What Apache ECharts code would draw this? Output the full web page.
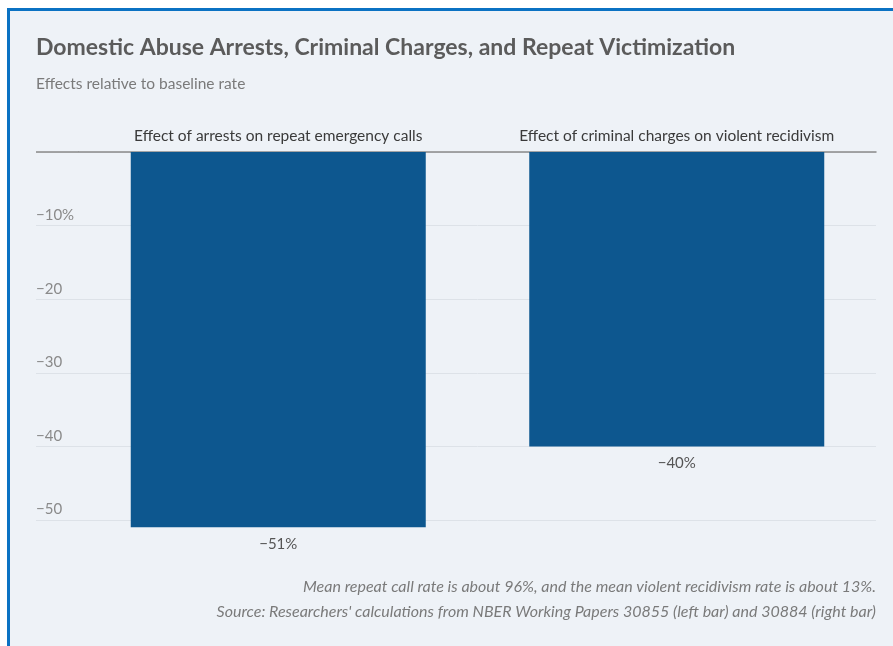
<!DOCTYPE html>
<html><head><meta charset="utf-8">
<script src="https://cdn.jsdelivr.net/npm/echarts@6/dist/echarts.min.js"></script>
<style>
html,body{margin:0;padding:0;background:#fff;width:893px;height:646px;overflow:hidden;}
#bg{position:absolute;left:7px;top:8px;width:900px;height:660px;background:#eef2f7;border-left:3px solid #0b72c3;border-top:3px solid #0b72c3;}
#chart{position:absolute;left:0;top:0;width:893px;height:646px;}
</style></head>
<body><div id="bg"></div><div id="chart"></div>
<script>
const categories = ['Effect of arrests on repeat emergency calls', 'Effect of criminal charges on violent recidivism'];
const effects = [-51, -40];
const tickValues = [0, -10, -20, -30, -40, -50];
const labelValues = [-10, -20, -30, -40, -50];
const titleText = 'Domestic Abuse Arrests, Criminal Charges, and Repeat Victimization';
const subtitleText = 'Effects relative to baseline rate';
const noteLines = ['Mean repeat call rate is about 96%, and the mean violent recidivism rate is about 13%.',
  "Source: Researchers' calculations from NBER Working Papers 30855 (left bar) and 30884 (right bar)"];

const FONT = '"Lato","Noto Sans",sans-serif';
const chart = echarts.init(document.getElementById('chart'), null, {renderer:'canvas'});
const fmt = v => v === -10 ? '\u221210%' : '\u2212' + Math.abs(v);
const noteStyle = {fontFamily: FONT, fontSize: 16, fontStyle: 'italic', fontWeight: 'normal', color: '#7a7a7a'};
chart.setOption({
  backgroundColor: 'transparent',
  animation: false,
  title: [
    {text: titleText, left: 36, top: 36, padding: 0, textStyle: {fontFamily: FONT, fontSize: 23, fontWeight: 'bold', color: '#5b5b5b'}},
    {text: subtitleText, left: 36, top: 76, padding: 0, textStyle: {fontFamily: FONT, fontSize: 15.5, fontWeight: 'normal', color: '#7a7a7a'}},
    {text: noteLines[0], right: 17, top: 579, padding: 0, textStyle: noteStyle},
    {text: noteLines[1], right: 17, top: 604, padding: 0, textStyle: noteStyle}
  ],
  grid: {left: 79, right: 17, top: 152, bottom: 646 - 152 - 52 * 7.36},
  xAxis: {
    type: 'category', data: categories, position: 'top',
    axisLine: {show: true, lineStyle: {color: '#8a8a8a', width: 1.5}},
    axisTick: {show: false},
    axisLabel: {interval: 0, hideOverlap: false, margin: 8, fontFamily: FONT, fontSize: 15.5, color: '#3a3a3a'}
  },
  yAxis: [{
    type: 'value', min: -52, max: 0,
    axisLine: {show: false},
    axisTick: {show: true, length: 43, customValues: tickValues, lineStyle: {color: '#dde2e8'}},
    splitLine: {show: true, lineStyle: {color: '#dde2e8'}},
    axisLabel: {customValues: labelValues, formatter: fmt, align: 'left', margin: 43, verticalAlign: 'bottom', padding: [0,0,3,0],
      fontFamily: FONT, fontSize: 15, color: '#8a8a8a'}
  }, {
    type: 'value', min: -52, max: 0, position: 'left',
    axisLine: {show: false},
    axisTick: {show: true, length: 43, customValues: [0], lineStyle: {color: '#8a8a8a', width: 1.5}},
    splitLine: {show: false},
    axisLabel: {show: false}
  }],
  series: [{
    type: 'bar', data: effects, barWidth: 295, yAxisIndex: 0,
    itemStyle: {color: '#0d578f'},
    label: {show: true, position: 'bottom', distance: 9, formatter: p => '\u2212' + Math.abs(p.value) + '%',
      fontFamily: FONT, fontSize: 15, color: '#555'}
  }]
});
</script></body></html>
